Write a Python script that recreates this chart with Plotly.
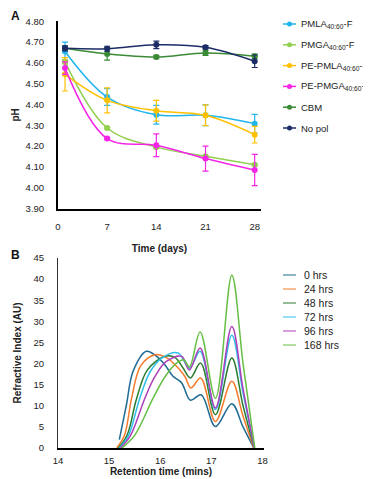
import plotly.graph_objects as go

# Panel A: pH over time
days = [1, 7, 14, 21, 28]

ph_pmla = [4.655, 4.436, 4.351, 4.348, 4.308]
ph_pmla_err = [0.045, 0.04, 0.045, 0.05, 0.045]
ph_pmga = [4.605, 4.287, 4.195, 4.151, 4.11]
ph_pmga_err = [0.01, 0.005, 0.005, 0.005, 0.005]
ph_pe_pmla = [4.545, 4.42, 4.37, 4.348, 4.255]
ph_pe_pmla_err = [0.08, 0.06, 0.05, 0.05, 0.04]
ph_pe_pmga = [4.575, 4.236, 4.204, 4.14, 4.085]
ph_pe_pmga_err = [0.03, 0.005, 0.055, 0.06, 0.075]
ph_cbm = [4.67, 4.643, 4.628, 4.648, 4.632]
ph_cbm_err = [0.01, 0.03, 0.008, 0.012, 0.01]
ph_nopol = [4.67, 4.668, 4.687, 4.675, 4.608]
ph_nopol_err = [0.012, 0.012, 0.018, 0.008, 0.03]

# Panel B: GPC traces (retention time in mins, refractive index AU)
t0_x = [15.20, 15.34, 15.47, 15.73, 15.93, 16.09, 16.25, 16.42, 16.59, 16.80, 17.08, 17.40, 17.62, 17.83]
t0_y = [2.0, 10.3, 18.2, 22.9, 21.7, 19.7, 17.0, 15.4, 11.3, 12.6, 5.1, 10.5, 5.0, 0]
t24_x = [15.15, 15.30, 15.44, 15.62, 15.90, 16.12, 16.29, 16.48, 16.60, 16.79, 17.08, 17.40, 17.62, 17.83]
t24_y = [0, 3, 11.8, 19.5, 22.1, 21.4, 19.7, 17.0, 14.2, 16.6, 6.3, 15.8, 7.5, 0]
t48_x = [15.18, 15.35, 15.54, 15.75, 16.09, 16.29, 16.45, 16.59, 16.79, 17.08, 17.40, 17.62, 17.84]
t48_y = [0, 3, 11.8, 18.5, 21.7, 21.4, 18.9, 16.6, 20.1, 7.9, 21.3, 10, 0]
t72_x = [15.20, 15.38, 15.60, 15.80, 16.03, 16.35, 16.57, 16.78, 17.08, 17.40, 17.62, 17.84]
t72_y = [0, 3, 11.8, 18.0, 21.3, 22.5, 18.9, 22.9, 9.1, 26.7, 13, 0]
t96_x = [15.22, 15.42, 15.70, 15.90, 16.12, 16.42, 16.57, 16.78, 17.08, 17.40, 17.62, 17.84]
t96_y = [0, 3, 11.8, 17.0, 20.5, 21.7, 18.5, 23.7, 9.5, 28.8, 14, 0]
t168_x = [15.25, 15.50, 15.86, 16.10, 16.32, 16.46, 16.57, 16.78, 17.08, 17.40, 17.62, 17.85]
t168_y = [0, 3, 11.8, 17.0, 20.1, 20.9, 19.2, 27.5, 11.8, 40.9, 20, 0]

W, H = 371, 479
FONT = "Liberation Sans"

def px(x):
    return x / W

def py(y):
    return 1 - y / H

fig = go.Figure()

seriesA = [
    ("PMLA<sub>40:60</sub>-F", ph_pmla, ph_pmla_err, "#1fb5ee"),
    ("PMGA<sub>40:60</sub>-F", ph_pmga, ph_pmga_err, "#92d050"),
    ("PE-PMLA<sub>40:60</sub>-F", ph_pe_pmla, ph_pe_pmla_err, "#ffc000"),
    ("PE-PMGA<sub>40:60</sub>-F", ph_pe_pmga, ph_pe_pmga_err, "#f525e8"),
    ("CBM", ph_cbm, ph_cbm_err, "#3b8a35"),
    ("No pol", ph_nopol, ph_nopol_err, "#1c2c66"),
]
for name, y, err, col in seriesA:
    fig.add_trace(go.Scatter(
        x=days, y=y, name=name, mode="lines+markers",
        line=dict(color=col, width=1.5, shape="spline"),
        marker=dict(color=col, size=6),
        error_y=dict(type="data", array=err, color=col, thickness=1.2, width=3),
        xaxis="x", yaxis="y", showlegend=False,
    ))

seriesB = [
    ("0 hrs", t0_x, t0_y, "#1f6b93"),
    ("24 hrs", t24_x, t24_y, "#f47a2c"),
    ("48 hrs", t48_x, t48_y, "#2a7b2e"),
    ("72 hrs", t72_x, t72_y, "#2fbfea"),
    ("96 hrs", t96_x, t96_y, "#ad3fb8"),
    ("168 hrs", t168_x, t168_y, "#66bf45"),
]
for name, x, y, col in seriesB:
    fig.add_trace(go.Scatter(
        x=x, y=y, name=name, mode="lines",
        line=dict(color=col, width=1.5, shape="spline"),
        xaxis="x2", yaxis="y2", showlegend=False,
    ))

# compact legends drawn as shapes + text (rows tighter than plotly's legend allows)
shapes, annotations = [], []
for i, (name, _, _, col) in enumerate(seriesA):
    yy = py(16 + i * 20.8)
    shapes.append(dict(type="line", xref="paper", yref="paper", x0=px(275), x1=px(288),
                       y0=yy, y1=yy, line=dict(color=col, width=1.5)))
    shapes.append(dict(type="circle", xref="paper", yref="paper", x0=px(279), x1=px(284),
                       y0=yy - 2.5 / H, y1=yy + 2.5 / H, fillcolor=col, line=dict(color=col, width=0)))
    annotations.append(dict(text=name, x=px(291), y=yy, xref="paper", yref="paper",
                            xanchor="left", yanchor="middle", showarrow=False,
                            font=dict(family=FONT, size=9.5, color="#222")))
for i, (name, _, _, col) in enumerate(seriesB):
    yy = py(267 + i * 14)
    shapes.append(dict(type="line", xref="paper", yref="paper", x0=px(275), x1=px(288),
                       y0=yy, y1=yy, line=dict(color=col, width=1)))
    annotations.append(dict(text=name, x=px(294), y=yy, xref="paper", yref="paper",
                            xanchor="left", yanchor="middle", showarrow=False,
                            font=dict(family=FONT, size=10.5, color="#222")))

annotations += [
    dict(text="<b>A</b>", x=px(7.5), y=py(8), xref="paper", yref="paper",
         xanchor="center", yanchor="middle", showarrow=False, font=dict(family=FONT, size=12, color="#111")),
    dict(text="<b>B</b>", x=px(7), y=py(247), xref="paper", yref="paper",
         xanchor="center", yanchor="middle", showarrow=False, font=dict(family=FONT, size=12, color="#111")),
]

tickfont = dict(family=FONT, size=9.5, color="#222")
titlefont = dict(family=FONT, size=10, color="#222", weight="bold")
hidden_tick = dict(ticks="outside", tickcolor="rgba(0,0,0,0)")

fig.update_layout(
    width=W, height=H,
    margin=dict(l=0, r=0, t=0, b=0, autoexpand=False),
    paper_bgcolor="white", plot_bgcolor="white",
    font=dict(family=FONT, color="#222"),
    showlegend=False,
    xaxis=dict(domain=[px(50), px(253)], range=[0, 28.9], tickvals=[0, 7, 14, 21, 28],
               showgrid=False, zeroline=False, showline=True, linecolor="black", linewidth=2,
               ticklen=8, tickfont=tickfont, anchor="y", **hidden_tick,
               title=dict(text="Time (days)", font=titlefont, standoff=14)),
    yaxis=dict(domain=[py(200.5), py(13.3)], range=[3.9, 4.8], dtick=0.1, tickformat=".2f",
               showgrid=False, zeroline=False, showline=True, linecolor="black", linewidth=2,
               ticklen=10, tickfont=tickfont, anchor="x", **hidden_tick,
               title=dict(text="pH", font=titlefont, standoff=4)),
    xaxis2=dict(domain=[px(50), px(256)], range=[14, 18.03], tickvals=[14, 15, 16, 17, 18],
                showgrid=False, zeroline=False, showline=True, linecolor="black", linewidth=2,
                ticklen=3, tickfont=tickfont, anchor="y2", **hidden_tick,
                title=dict(text="Retention time (mins)", font=titlefont, standoff=2)),
    yaxis2=dict(domain=[py(440), py(250)], range=[0, 45], dtick=5,
                showgrid=False, zeroline=False, showline=True, linecolor="#333", linewidth=1,
                ticklen=11, tickfont=tickfont, anchor="x2", **hidden_tick,
                title=dict(text="Refractive Index (AU)", font=titlefont, standoff=10)),
    shapes=shapes,
    annotations=annotations,
)

fig.write_html("out.html")
